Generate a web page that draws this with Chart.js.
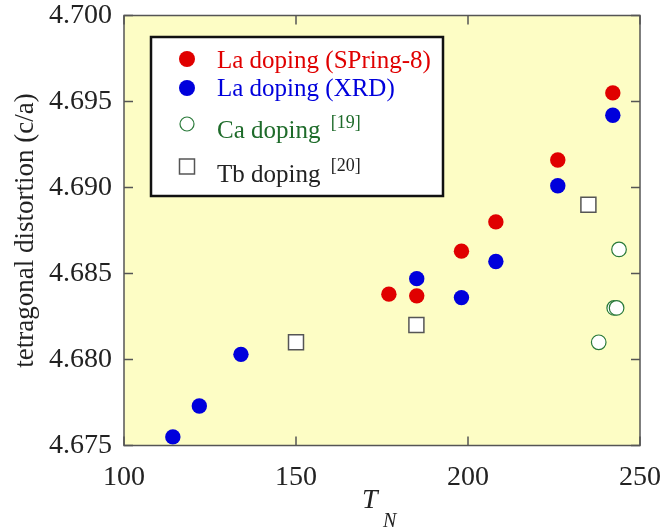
<!DOCTYPE html>
<html>
<head>
<meta charset="utf-8">
<script src="https://cdn.jsdelivr.net/npm/chart.js@4.4.0/dist/chart.umd.min.js"></script>
<style>
  html, body { margin: 0; padding: 0; background: #fff; }
</style>
</head>
<body>
<canvas id="chart-distortion" width="663" height="530"></canvas>
<script>
  // La doping, synchrotron (SPring-8)
  const laSpringTN = [177.0, 185.1, 198.1, 208.1, 226.1, 242.1];
  const laSpringCA = [4.6838, 4.6837, 4.6863, 4.6880, 4.6916, 4.6955];
  // La doping, lab XRD
  const laXrdTN = [114.2, 121.9, 134.0, 185.1, 198.1, 208.1, 226.1, 242.1];
  const laXrdCA = [4.6755, 4.6773, 4.6803, 4.6847, 4.6836, 4.6857, 4.6901, 4.6942];
  // Ca doping [19]
  const caTN = [238.0, 242.5, 243.2, 243.9];
  const caCA = [4.6810, 4.6830, 4.6830, 4.6864];
  // Tb doping [20]
  const tbTN = [150.0, 185.0, 235.0];
  const tbCA = [4.6810, 4.6820, 4.6890];

  const xTicks = [100, 150, 200, 250];
  const yTicks = [4.675, 4.680, 4.685, 4.690, 4.695, 4.700];

  const SERIF = '"Liberation Serif", "Times New Roman", serif';
  const RED = '#e00000';
  const BLUE = '#0000dc';
  const GREEN = '#2a7a3a';
  const GREEN_TEXT = '#1e6b2a';
  const FRAME = '#555';

  const toPoints = (xs, ys) => xs.map((x, i) => ({ x: x, y: ys[i] }));

  // yellow plot background, frame and inward ticks on all four sides
  const framePlugin = {
    id: 'frame',
    beforeDraw(chart) {
      const { ctx, chartArea: a } = chart;
      ctx.save();
      ctx.fillStyle = '#fdfdc5';
      ctx.fillRect(a.left, a.top, a.right - a.left, a.bottom - a.top);
      ctx.restore();
    },
    afterDatasetsDraw(chart) {
      const { ctx, chartArea: a, scales } = chart;
      const len = 9;
      ctx.save();
      ctx.strokeStyle = FRAME;
      ctx.lineWidth = 1.5;
      ctx.beginPath();
      xTicks.forEach((v) => {
        const px = scales.x.getPixelForValue(v);
        ctx.moveTo(px, a.bottom); ctx.lineTo(px, a.bottom - len);
        ctx.moveTo(px, a.top); ctx.lineTo(px, a.top + len);
      });
      yTicks.forEach((v) => {
        const py = scales.y.getPixelForValue(v);
        ctx.moveTo(a.left, py); ctx.lineTo(a.left + len, py);
        ctx.moveTo(a.right, py); ctx.lineTo(a.right - len, py);
      });
      ctx.stroke();
      ctx.strokeRect(a.left, a.top, a.right - a.left, a.bottom - a.top);

      // x axis title: T with subscript N
      ctx.fillStyle = '#222';
      ctx.textBaseline = 'alphabetic';
      ctx.font = 'italic 28px ' + SERIF;
      ctx.fillText('T', 362, 508);
      ctx.font = 'italic 20px ' + SERIF;
      ctx.fillText('N', 383, 527);
      ctx.restore();
    }
  };

  // boxed legend with coloured labels and reference superscripts
  const legendPlugin = {
    id: 'boxLegend',
    afterDraw(chart) {
      const ctx = chart.ctx;
      ctx.save();
      ctx.fillStyle = '#fff';
      ctx.fillRect(151, 37, 292, 159);
      ctx.strokeStyle = '#111';
      ctx.lineWidth = 2.5;
      ctx.strokeRect(151, 37, 292, 159);

      const mx = 187, tx = 217;
      const circle = (y, r, fill, stroke) => {
        ctx.beginPath();
        ctx.arc(mx, y, r, 0, Math.PI * 2);
        ctx.fillStyle = fill;
        ctx.fill();
        if (stroke) { ctx.lineWidth = 1.2; ctx.strokeStyle = stroke; ctx.stroke(); }
      };
      const label = (text, y, color, sup, supY) => {
        ctx.font = '25px ' + SERIF;
        ctx.fillStyle = color;
        ctx.fillText(text, tx, y);
        if (sup) {
          const w = ctx.measureText(text + ' ').width;
          ctx.font = '18px ' + SERIF;
          ctx.fillText(sup, tx + w + 4, supY);
        }
      };
      ctx.textBaseline = 'alphabetic';

      circle(59, 8, RED);
      label('La doping (SPring-8)', 68, RED);
      circle(88, 8, BLUE);
      label('La doping (XRD)', 96, BLUE);
      circle(124, 7, '#fff', GREEN);
      label('Ca doping', 138, GREEN_TEXT, '[19]', 127.5);
      ctx.fillStyle = '#fff';
      ctx.fillRect(mx - 7.5, 159, 15, 15);
      ctx.lineWidth = 1.5;
      ctx.strokeStyle = FRAME;
      ctx.strokeRect(mx - 7.5, 159, 15, 15);
      label('Tb doping', 182, '#222', '[20]', 171);
      ctx.restore();
    }
  };

  const chartInstance = new Chart(document.getElementById('chart-distortion'), {
    type: 'scatter',
    data: {
      datasets: [
        {
          label: 'La doping (SPring-8)',
          data: toPoints(laSpringTN, laSpringCA),
          pointStyle: 'circle',
          pointRadius: 7.7,
          backgroundColor: RED,
          borderWidth: 0
        },
        {
          label: 'La doping (XRD)',
          data: toPoints(laXrdTN, laXrdCA),
          pointStyle: 'circle',
          pointRadius: 7.7,
          backgroundColor: BLUE,
          borderWidth: 0
        },
        {
          label: 'Ca doping',
          data: toPoints(caTN, caCA),
          pointStyle: 'circle',
          pointRadius: 7.3,
          backgroundColor: '#fff',
          borderColor: GREEN,
          borderWidth: 1.2
        },
        {
          label: 'Tb doping',
          data: toPoints(tbTN, tbCA),
          pointStyle: 'rect',
          pointRadius: 10.6,
          backgroundColor: '#fff',
          borderColor: FRAME,
          borderWidth: 1.5
        }
      ]
    },
    options: {
      responsive: false,
      devicePixelRatio: 1,
      animation: false,
      layout: { padding: { top: 15.5, right: 23, left: 0, bottom: 0 } },
      plugins: {
        legend: { display: false },
        tooltip: { enabled: false }
      },
      scales: {
        x: {
          type: 'linear',
          min: 100,
          max: 250,
          afterFit: (s) => {
            s.height = 84.5;
            s.paddingLeft = 0;
            s.paddingRight = 0;
          },
          afterBuildTicks: (s) => { s.ticks = xTicks.map((v) => ({ value: v })); },
          ticks: {
            padding: 15,
            color: '#222',
            font: { family: SERIF, size: 28 },
            maxRotation: 0
          },
          grid: { display: true, drawOnChartArea: false, drawTicks: false },
          border: { display: false }
        },
        y: {
          type: 'linear',
          min: 4.675,
          max: 4.700,
          afterFit: (s) => {
            s.width = 124;
            s.paddingTop = 0;
            s.paddingBottom = 0;
          },
          afterBuildTicks: (s) => { s.ticks = yTicks.map((v) => ({ value: v })); },
          ticks: {
            padding: 12,
            color: '#222',
            font: { family: SERIF, size: 28 },
            callback: (v) => Number(v).toFixed(3)
          },
          grid: { display: true, drawOnChartArea: false, drawTicks: false },
          border: { display: false },
          title: {
            display: true,
            text: 'tetragonal distortion (c/a)',
            color: '#222',
            font: { family: SERIF, size: 27 },
            padding: { top: 10, bottom: 0 }
          }
        }
      }
    },
    plugins: [framePlugin, legendPlugin]
  });
</script>
</body>
</html>
